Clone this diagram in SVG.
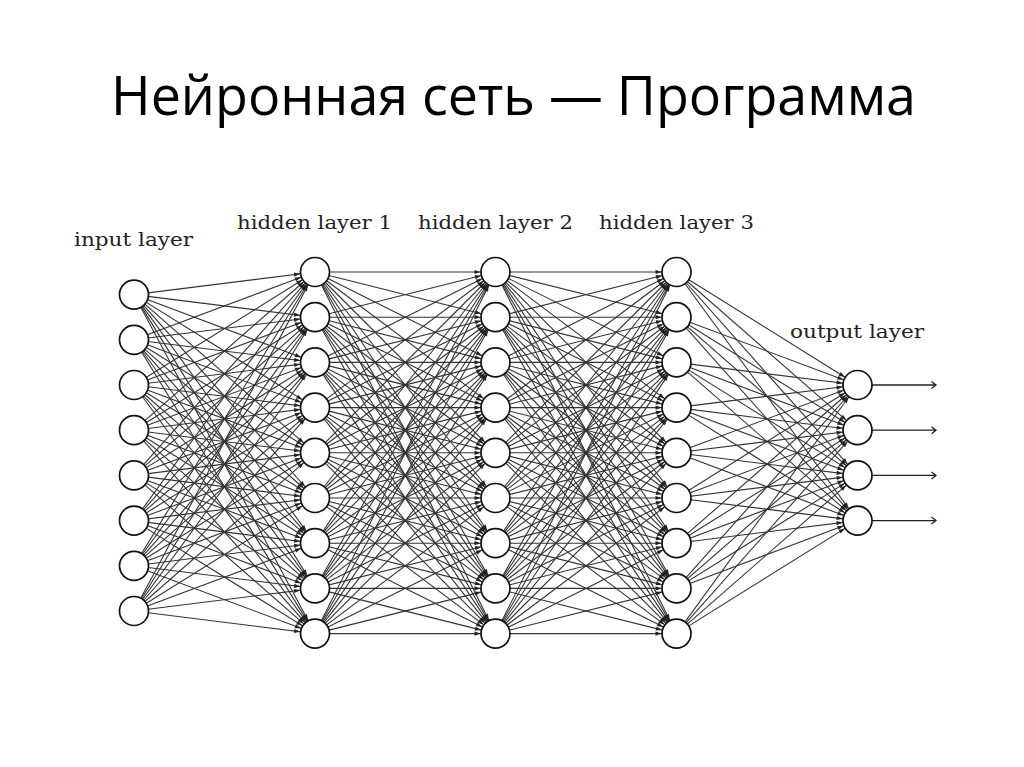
<svg xmlns="http://www.w3.org/2000/svg" width="1024" height="767" viewBox="0 0 1024 767">
<style>
.e path{fill:none;stroke:#333;stroke-width:1.1;marker-end:url(#a)}
.n circle{fill:#fff;stroke:#111;stroke-width:1.7}
.lbl{font-family:"DejaVu Serif","Liberation Serif",serif;font-size:19px;fill:#222}
.title{font-family:"Open Sans","Noto Sans",sans-serif;font-size:54px;fill:#000}
.out path{fill:none;stroke:#222;stroke-width:1.3}
</style>
<defs>
<marker id="a" markerUnits="userSpaceOnUse" markerWidth="20" markerHeight="10" refX="15" refY="0" orient="auto" style="overflow:visible">
<path d="M0 0L-6 -2.1L-6 2.1Z" fill="#222"/>
</marker>
</defs>
<rect width="1024" height="767" fill="#fff"/>
<text class="title" x="111" y="115" textLength="805" lengthAdjust="spacingAndGlyphs">Нейронная сеть — Программа</text>
<text class="lbl" x="74" y="246" textLength="119" lengthAdjust="spacingAndGlyphs">input layer</text>
<text class="lbl" x="237" y="229" textLength="155" lengthAdjust="spacingAndGlyphs">hidden layer 1</text>
<text class="lbl" x="418" y="229" textLength="155" lengthAdjust="spacingAndGlyphs">hidden layer 2</text>
<text class="lbl" x="599" y="229" textLength="155" lengthAdjust="spacingAndGlyphs">hidden layer 3</text>
<text class="lbl" x="790" y="338" textLength="134" lengthAdjust="spacingAndGlyphs">output layer</text>
<g id="connectors" class="e">
<path d="M134 294.6L315 272"/><path d="M134 294.6L315 317.2"/><path d="M134 294.6L315 362.4"/><path d="M134 294.6L315 407.6"/><path d="M134 294.6L315 452.8"/><path d="M134 294.6L315 498"/><path d="M134 294.6L315 543.2"/><path d="M134 294.6L315 588.4"/><path d="M134 294.6L315 633.6"/>
<path d="M134 339.8L315 272"/><path d="M134 339.8L315 317.2"/><path d="M134 339.8L315 362.4"/><path d="M134 339.8L315 407.6"/><path d="M134 339.8L315 452.8"/><path d="M134 339.8L315 498"/><path d="M134 339.8L315 543.2"/><path d="M134 339.8L315 588.4"/><path d="M134 339.8L315 633.6"/>
<path d="M134 385L315 272"/><path d="M134 385L315 317.2"/><path d="M134 385L315 362.4"/><path d="M134 385L315 407.6"/><path d="M134 385L315 452.8"/><path d="M134 385L315 498"/><path d="M134 385L315 543.2"/><path d="M134 385L315 588.4"/><path d="M134 385L315 633.6"/>
<path d="M134 430.2L315 272"/><path d="M134 430.2L315 317.2"/><path d="M134 430.2L315 362.4"/><path d="M134 430.2L315 407.6"/><path d="M134 430.2L315 452.8"/><path d="M134 430.2L315 498"/><path d="M134 430.2L315 543.2"/><path d="M134 430.2L315 588.4"/><path d="M134 430.2L315 633.6"/>
<path d="M134 475.4L315 272"/><path d="M134 475.4L315 317.2"/><path d="M134 475.4L315 362.4"/><path d="M134 475.4L315 407.6"/><path d="M134 475.4L315 452.8"/><path d="M134 475.4L315 498"/><path d="M134 475.4L315 543.2"/><path d="M134 475.4L315 588.4"/><path d="M134 475.4L315 633.6"/>
<path d="M134 520.6L315 272"/><path d="M134 520.6L315 317.2"/><path d="M134 520.6L315 362.4"/><path d="M134 520.6L315 407.6"/><path d="M134 520.6L315 452.8"/><path d="M134 520.6L315 498"/><path d="M134 520.6L315 543.2"/><path d="M134 520.6L315 588.4"/><path d="M134 520.6L315 633.6"/>
<path d="M134 565.8L315 272"/><path d="M134 565.8L315 317.2"/><path d="M134 565.8L315 362.4"/><path d="M134 565.8L315 407.6"/><path d="M134 565.8L315 452.8"/><path d="M134 565.8L315 498"/><path d="M134 565.8L315 543.2"/><path d="M134 565.8L315 588.4"/><path d="M134 565.8L315 633.6"/>
<path d="M134 611L315 272"/><path d="M134 611L315 317.2"/><path d="M134 611L315 362.4"/><path d="M134 611L315 407.6"/><path d="M134 611L315 452.8"/><path d="M134 611L315 498"/><path d="M134 611L315 543.2"/><path d="M134 611L315 588.4"/><path d="M134 611L315 633.6"/>

<path d="M315 272L495.5 272"/><path d="M315 272L495.5 317.2"/><path d="M315 272L495.5 362.4"/><path d="M315 272L495.5 407.6"/><path d="M315 272L495.5 452.8"/><path d="M315 272L495.5 498"/><path d="M315 272L495.5 543.2"/><path d="M315 272L495.5 588.4"/><path d="M315 272L495.5 633.6"/>
<path d="M315 317.2L495.5 272"/><path d="M315 317.2L495.5 317.2"/><path d="M315 317.2L495.5 362.4"/><path d="M315 317.2L495.5 407.6"/><path d="M315 317.2L495.5 452.8"/><path d="M315 317.2L495.5 498"/><path d="M315 317.2L495.5 543.2"/><path d="M315 317.2L495.5 588.4"/><path d="M315 317.2L495.5 633.6"/>
<path d="M315 362.4L495.5 272"/><path d="M315 362.4L495.5 317.2"/><path d="M315 362.4L495.5 362.4"/><path d="M315 362.4L495.5 407.6"/><path d="M315 362.4L495.5 452.8"/><path d="M315 362.4L495.5 498"/><path d="M315 362.4L495.5 543.2"/><path d="M315 362.4L495.5 588.4"/><path d="M315 362.4L495.5 633.6"/>
<path d="M315 407.6L495.5 272"/><path d="M315 407.6L495.5 317.2"/><path d="M315 407.6L495.5 362.4"/><path d="M315 407.6L495.5 407.6"/><path d="M315 407.6L495.5 452.8"/><path d="M315 407.6L495.5 498"/><path d="M315 407.6L495.5 543.2"/><path d="M315 407.6L495.5 588.4"/><path d="M315 407.6L495.5 633.6"/>
<path d="M315 452.8L495.5 272"/><path d="M315 452.8L495.5 317.2"/><path d="M315 452.8L495.5 362.4"/><path d="M315 452.8L495.5 407.6"/><path d="M315 452.8L495.5 452.8"/><path d="M315 452.8L495.5 498"/><path d="M315 452.8L495.5 543.2"/><path d="M315 452.8L495.5 588.4"/><path d="M315 452.8L495.5 633.6"/>
<path d="M315 498L495.5 272"/><path d="M315 498L495.5 317.2"/><path d="M315 498L495.5 362.4"/><path d="M315 498L495.5 407.6"/><path d="M315 498L495.5 452.8"/><path d="M315 498L495.5 498"/><path d="M315 498L495.5 543.2"/><path d="M315 498L495.5 588.4"/><path d="M315 498L495.5 633.6"/>
<path d="M315 543.2L495.5 272"/><path d="M315 543.2L495.5 317.2"/><path d="M315 543.2L495.5 362.4"/><path d="M315 543.2L495.5 407.6"/><path d="M315 543.2L495.5 452.8"/><path d="M315 543.2L495.5 498"/><path d="M315 543.2L495.5 543.2"/><path d="M315 543.2L495.5 588.4"/><path d="M315 543.2L495.5 633.6"/>
<path d="M315 588.4L495.5 272"/><path d="M315 588.4L495.5 317.2"/><path d="M315 588.4L495.5 362.4"/><path d="M315 588.4L495.5 407.6"/><path d="M315 588.4L495.5 452.8"/><path d="M315 588.4L495.5 498"/><path d="M315 588.4L495.5 543.2"/><path d="M315 588.4L495.5 588.4"/><path d="M315 588.4L495.5 633.6"/>
<path d="M315 633.6L495.5 272"/><path d="M315 633.6L495.5 317.2"/><path d="M315 633.6L495.5 362.4"/><path d="M315 633.6L495.5 407.6"/><path d="M315 633.6L495.5 452.8"/><path d="M315 633.6L495.5 498"/><path d="M315 633.6L495.5 543.2"/><path d="M315 633.6L495.5 588.4"/><path d="M315 633.6L495.5 633.6"/>

<path d="M495.5 272L676.5 272"/><path d="M495.5 272L676.5 317.2"/><path d="M495.5 272L676.5 362.4"/><path d="M495.5 272L676.5 407.6"/><path d="M495.5 272L676.5 452.8"/><path d="M495.5 272L676.5 498"/><path d="M495.5 272L676.5 543.2"/><path d="M495.5 272L676.5 588.4"/><path d="M495.5 272L676.5 633.6"/>
<path d="M495.5 317.2L676.5 272"/><path d="M495.5 317.2L676.5 317.2"/><path d="M495.5 317.2L676.5 362.4"/><path d="M495.5 317.2L676.5 407.6"/><path d="M495.5 317.2L676.5 452.8"/><path d="M495.5 317.2L676.5 498"/><path d="M495.5 317.2L676.5 543.2"/><path d="M495.5 317.2L676.5 588.4"/><path d="M495.5 317.2L676.5 633.6"/>
<path d="M495.5 362.4L676.5 272"/><path d="M495.5 362.4L676.5 317.2"/><path d="M495.5 362.4L676.5 362.4"/><path d="M495.5 362.4L676.5 407.6"/><path d="M495.5 362.4L676.5 452.8"/><path d="M495.5 362.4L676.5 498"/><path d="M495.5 362.4L676.5 543.2"/><path d="M495.5 362.4L676.5 588.4"/><path d="M495.5 362.4L676.5 633.6"/>
<path d="M495.5 407.6L676.5 272"/><path d="M495.5 407.6L676.5 317.2"/><path d="M495.5 407.6L676.5 362.4"/><path d="M495.5 407.6L676.5 407.6"/><path d="M495.5 407.6L676.5 452.8"/><path d="M495.5 407.6L676.5 498"/><path d="M495.5 407.6L676.5 543.2"/><path d="M495.5 407.6L676.5 588.4"/><path d="M495.5 407.6L676.5 633.6"/>
<path d="M495.5 452.8L676.5 272"/><path d="M495.5 452.8L676.5 317.2"/><path d="M495.5 452.8L676.5 362.4"/><path d="M495.5 452.8L676.5 407.6"/><path d="M495.5 452.8L676.5 452.8"/><path d="M495.5 452.8L676.5 498"/><path d="M495.5 452.8L676.5 543.2"/><path d="M495.5 452.8L676.5 588.4"/><path d="M495.5 452.8L676.5 633.6"/>
<path d="M495.5 498L676.5 272"/><path d="M495.5 498L676.5 317.2"/><path d="M495.5 498L676.5 362.4"/><path d="M495.5 498L676.5 407.6"/><path d="M495.5 498L676.5 452.8"/><path d="M495.5 498L676.5 498"/><path d="M495.5 498L676.5 543.2"/><path d="M495.5 498L676.5 588.4"/><path d="M495.5 498L676.5 633.6"/>
<path d="M495.5 543.2L676.5 272"/><path d="M495.5 543.2L676.5 317.2"/><path d="M495.5 543.2L676.5 362.4"/><path d="M495.5 543.2L676.5 407.6"/><path d="M495.5 543.2L676.5 452.8"/><path d="M495.5 543.2L676.5 498"/><path d="M495.5 543.2L676.5 543.2"/><path d="M495.5 543.2L676.5 588.4"/><path d="M495.5 543.2L676.5 633.6"/>
<path d="M495.5 588.4L676.5 272"/><path d="M495.5 588.4L676.5 317.2"/><path d="M495.5 588.4L676.5 362.4"/><path d="M495.5 588.4L676.5 407.6"/><path d="M495.5 588.4L676.5 452.8"/><path d="M495.5 588.4L676.5 498"/><path d="M495.5 588.4L676.5 543.2"/><path d="M495.5 588.4L676.5 588.4"/><path d="M495.5 588.4L676.5 633.6"/>
<path d="M495.5 633.6L676.5 272"/><path d="M495.5 633.6L676.5 317.2"/><path d="M495.5 633.6L676.5 362.4"/><path d="M495.5 633.6L676.5 407.6"/><path d="M495.5 633.6L676.5 452.8"/><path d="M495.5 633.6L676.5 498"/><path d="M495.5 633.6L676.5 543.2"/><path d="M495.5 633.6L676.5 588.4"/><path d="M495.5 633.6L676.5 633.6"/>

<path d="M676.5 272L857.5 385"/><path d="M676.5 272L857.5 430.2"/><path d="M676.5 272L857.5 475.4"/><path d="M676.5 272L857.5 520.6"/>
<path d="M676.5 317.2L857.5 385"/><path d="M676.5 317.2L857.5 430.2"/><path d="M676.5 317.2L857.5 475.4"/><path d="M676.5 317.2L857.5 520.6"/>
<path d="M676.5 362.4L857.5 385"/><path d="M676.5 362.4L857.5 430.2"/><path d="M676.5 362.4L857.5 475.4"/><path d="M676.5 362.4L857.5 520.6"/>
<path d="M676.5 407.6L857.5 385"/><path d="M676.5 407.6L857.5 430.2"/><path d="M676.5 407.6L857.5 475.4"/><path d="M676.5 407.6L857.5 520.6"/>
<path d="M676.5 452.8L857.5 385"/><path d="M676.5 452.8L857.5 430.2"/><path d="M676.5 452.8L857.5 475.4"/><path d="M676.5 452.8L857.5 520.6"/>
<path d="M676.5 498L857.5 385"/><path d="M676.5 498L857.5 430.2"/><path d="M676.5 498L857.5 475.4"/><path d="M676.5 498L857.5 520.6"/>
<path d="M676.5 543.2L857.5 385"/><path d="M676.5 543.2L857.5 430.2"/><path d="M676.5 543.2L857.5 475.4"/><path d="M676.5 543.2L857.5 520.6"/>
<path d="M676.5 588.4L857.5 385"/><path d="M676.5 588.4L857.5 430.2"/><path d="M676.5 588.4L857.5 475.4"/><path d="M676.5 588.4L857.5 520.6"/>
<path d="M676.5 633.6L857.5 385"/><path d="M676.5 633.6L857.5 430.2"/><path d="M676.5 633.6L857.5 475.4"/><path d="M676.5 633.6L857.5 520.6"/>
</g>
<g id="outputs" class="out">
<path d="M872 385H936M931.5 381.5L936 385L931.5 388.5"/>
<path d="M872 430.2H936M931.5 426.7L936 430.2L931.5 433.7"/>
<path d="M872 475.4H936M931.5 471.9L936 475.4L931.5 478.9"/>
<path d="M872 520.6H936M931.5 517.1L936 520.6L931.5 524.1"/>
</g>
<g id="in1" class="n"><circle cx="134" cy="294.6" r="14.5"/></g>
<g id="in2" class="n"><circle cx="134" cy="339.8" r="14.5"/></g>
<g id="in3" class="n"><circle cx="134" cy="385" r="14.5"/></g>
<g id="in4" class="n"><circle cx="134" cy="430.2" r="14.5"/></g>
<g id="in5" class="n"><circle cx="134" cy="475.4" r="14.5"/></g>
<g id="in6" class="n"><circle cx="134" cy="520.6" r="14.5"/></g>
<g id="in7" class="n"><circle cx="134" cy="565.8" r="14.5"/></g>
<g id="in8" class="n"><circle cx="134" cy="611" r="14.5"/></g>
<g id="h1_1" class="n"><circle cx="315" cy="272" r="14.5"/></g>
<g id="h1_2" class="n"><circle cx="315" cy="317.2" r="14.5"/></g>
<g id="h1_3" class="n"><circle cx="315" cy="362.4" r="14.5"/></g>
<g id="h1_4" class="n"><circle cx="315" cy="407.6" r="14.5"/></g>
<g id="h1_5" class="n"><circle cx="315" cy="452.8" r="14.5"/></g>
<g id="h1_6" class="n"><circle cx="315" cy="498" r="14.5"/></g>
<g id="h1_7" class="n"><circle cx="315" cy="543.2" r="14.5"/></g>
<g id="h1_8" class="n"><circle cx="315" cy="588.4" r="14.5"/></g>
<g id="h1_9" class="n"><circle cx="315" cy="633.6" r="14.5"/></g>
<g id="h2_1" class="n"><circle cx="495.5" cy="272" r="14.5"/></g>
<g id="h2_2" class="n"><circle cx="495.5" cy="317.2" r="14.5"/></g>
<g id="h2_3" class="n"><circle cx="495.5" cy="362.4" r="14.5"/></g>
<g id="h2_4" class="n"><circle cx="495.5" cy="407.6" r="14.5"/></g>
<g id="h2_5" class="n"><circle cx="495.5" cy="452.8" r="14.5"/></g>
<g id="h2_6" class="n"><circle cx="495.5" cy="498" r="14.5"/></g>
<g id="h2_7" class="n"><circle cx="495.5" cy="543.2" r="14.5"/></g>
<g id="h2_8" class="n"><circle cx="495.5" cy="588.4" r="14.5"/></g>
<g id="h2_9" class="n"><circle cx="495.5" cy="633.6" r="14.5"/></g>
<g id="h3_1" class="n"><circle cx="676.5" cy="272" r="14.5"/></g>
<g id="h3_2" class="n"><circle cx="676.5" cy="317.2" r="14.5"/></g>
<g id="h3_3" class="n"><circle cx="676.5" cy="362.4" r="14.5"/></g>
<g id="h3_4" class="n"><circle cx="676.5" cy="407.6" r="14.5"/></g>
<g id="h3_5" class="n"><circle cx="676.5" cy="452.8" r="14.5"/></g>
<g id="h3_6" class="n"><circle cx="676.5" cy="498" r="14.5"/></g>
<g id="h3_7" class="n"><circle cx="676.5" cy="543.2" r="14.5"/></g>
<g id="h3_8" class="n"><circle cx="676.5" cy="588.4" r="14.5"/></g>
<g id="h3_9" class="n"><circle cx="676.5" cy="633.6" r="14.5"/></g>
<g id="out1" class="n"><circle cx="857.5" cy="385" r="14.5"/></g>
<g id="out2" class="n"><circle cx="857.5" cy="430.2" r="14.5"/></g>
<g id="out3" class="n"><circle cx="857.5" cy="475.4" r="14.5"/></g>
<g id="out4" class="n"><circle cx="857.5" cy="520.6" r="14.5"/></g>
</svg>
